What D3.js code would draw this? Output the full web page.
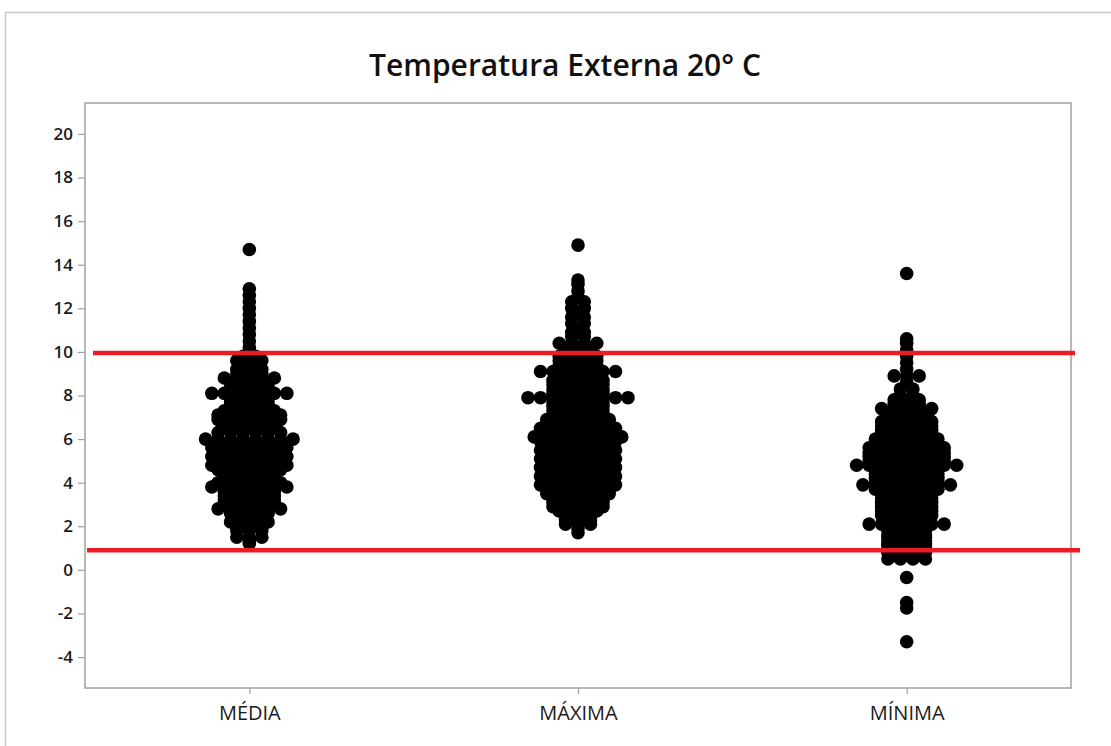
<!DOCTYPE html>
<html>
<head>
<meta charset="utf-8">
<script src="https://cdn.jsdelivr.net/npm/d3@7"></script>
<style>
  html, body { margin: 0; padding: 0; background: #ffffff; overflow: hidden; }
  svg { display: block; }
</style>
</head>
<body>
<svg id="chart" width="1111" height="746"></svg>
<script>
// ---- data -------------------------------------------------------------
const chartTitle = "Temperatura Externa 20° C";
const categories = ["MÉDIA", "MÁXIMA", "MÍNIMA"];
const yTickValues = [-4, -2, 0, 2, 4, 6, 8, 10, 12, 14, 16, 18, 20];
const referenceLines = [9.95, 0.9];

// each entry: [temperature, number of readings with that value]
const media = [
  [14.7, 1],
  [12.9, 1], [12.6, 1], [12.3, 1], [12.0, 1], [11.7, 1], [11.4, 1],
  [11.1, 1], [10.8, 1], [10.5, 1], [10.2, 1], [10.0, 1],
  [9.8, 2], [9.6, 3], [9.4, 2], [9.2, 3], [9.0, 3],
  [8.8, 5],
  [8.6, 3], [8.4, 4], [8.3, 3],
  [8.1, 7],
  [7.9, 4], [7.7, 4], [7.5, 4], [7.3, 5],
  [7.1, 6], [6.9, 6], [6.7, 5], [6.5, 5], [6.3, 6],
  [6.0, 8],
  [5.8, 6], [5.6, 7], [5.4, 6], [5.2, 7], [5.0, 6], [4.8, 7], [4.6, 6],
  [4.4, 5], [4.2, 4],
  [4.0, 6], [3.8, 7],
  [3.6, 5], [3.4, 5], [3.2, 5], [3.0, 5],
  [2.8, 6],
  [2.6, 4], [2.4, 3], [2.2, 4], [2.0, 3], [1.8, 3],
  [1.5, 3],
  [1.3, 1], [1.2, 1]
];

const maxima = [
  [14.9, 1],
  [13.3, 1], [13.1, 1],
  [12.8, 1], [12.5, 1], [12.3, 2], [12.0, 2], [11.8, 1], [11.6, 2],
  [11.3, 2], [11.1, 1], [10.9, 2], [10.7, 2],
  [10.4, 4], [10.2, 3], [10.0, 3], [9.8, 4], [9.6, 4], [9.4, 4], [9.3, 3],
  [9.1, 7],
  [8.9, 4], [8.7, 5], [8.5, 5], [8.3, 5], [8.1, 5],
  [7.9, 9],
  [7.7, 5], [7.5, 5], [7.3, 5], [7.1, 5], [6.9, 6], [6.7, 6], [6.5, 7], [6.3, 7],
  [6.1, 8],
  [5.9, 7], [5.7, 6], [5.5, 7], [5.3, 6], [5.1, 7], [4.9, 6], [4.7, 7],
  [4.5, 6], [4.3, 7], [4.1, 6], [3.9, 7], [3.7, 6], [3.5, 6],
  [3.3, 5], [3.1, 5], [2.9, 5], [2.7, 4],
  [2.5, 3], [2.3, 3], [2.1, 3],
  [1.9, 1], [1.7, 1]
];

const minima = [
  [13.6, 1],
  [10.6, 1], [10.4, 1], [10.1, 1], [9.8, 1], [9.5, 1], [9.2, 1],
  [8.9, 3],
  [8.6, 1], [8.3, 2], [8.0, 2],
  [7.8, 3], [7.6, 3],
  [7.4, 5],
  [7.2, 4], [7.0, 4], [6.8, 5], [6.6, 5], [6.4, 5], [6.2, 5],
  [6.0, 6], [5.8, 6], [5.6, 7], [5.4, 7], [5.2, 7], [5.0, 7],
  [4.8, 9],
  [4.6, 6], [4.4, 6], [4.2, 6], [4.0, 6],
  [3.9, 8],
  [3.7, 6], [3.5, 5], [3.3, 5], [3.1, 5], [2.9, 5], [2.7, 5], [2.5, 5], [2.3, 4],
  [2.1, 7],
  [1.9, 4], [1.8, 4], [1.7, 3], [1.6, 4], [1.5, 4], [1.4, 3], [1.3, 4],
  [1.2, 4], [1.1, 4], [1.0, 3], [0.9, 4], [0.8, 4], [0.7, 3],
  [0.5, 4],
  [-0.35, 1],
  [-1.5, 1], [-1.75, 1],
  [-3.3, 1]
];

const groups = [media, maxima, minima];

// ---- layout -----------------------------------------------------------
const W = 1111, H = 746;
const plot = { left: 85, right: 1071, top: 103, bottom: 688 };
const dotRadius = 6.8;
const dotStep = 12.5;   // horizontal distance between tied readings
const font = "'Open Sans', 'Noto Sans', sans-serif";

const svg = d3.select("#chart");

// outer figure frame (top and left edges visible)
svg.append("path")
  .attr("d", `M5.5,${H} V12.5 H${W}`)
  .attr("fill", "none")
  .attr("stroke", "#c6c6c6")
  .attr("stroke-width", 1.5);

const x = d3.scalePoint()
  .domain(categories)
  .range([plot.left, plot.right])
  .padding(0.5);

const y = d3.scaleLinear()
  .domain([-5.42, 21.42])
  .range([plot.bottom, plot.top]);

// title
svg.append("text")
  .attr("x", 565)
  .attr("y", 76)
  .attr("text-anchor", "middle")
  .attr("font-family", font)
  .attr("font-weight", 600)
  .attr("font-size", 30)
  .attr("fill", "#111")
  .text(chartTitle);

// y axis
const yAxis = svg.append("g")
  .attr("transform", `translate(${plot.left},0)`)
  .call(d3.axisLeft(y)
    .tickValues(yTickValues)
    .tickFormat(d => String(d))
    .tickSize(7).tickPadding(5).tickSizeOuter(0));
yAxis.select(".domain").remove();
yAxis.selectAll("line").attr("stroke", "#a0a0a0").attr("stroke-width", 1.2);
yAxis.selectAll("text")
  .attr("font-family", font)
  .attr("font-weight", 600)
  .attr("font-size", 17)
  .attr("fill", "#1a1a1a");

// x axis
const xAxis = svg.append("g")
  .attr("transform", `translate(0,${plot.bottom})`)
  .call(d3.axisBottom(x).tickSize(6).tickPadding(12).tickSizeOuter(0));
xAxis.select(".domain").remove();
xAxis.selectAll("line").attr("stroke", "#a0a0a0").attr("stroke-width", 1.2);
xAxis.selectAll("text")
  .attr("font-family", font)
  .attr("font-size", 20)
  .attr("fill", "#1a1a1a");

// plot frame
svg.append("rect")
  .attr("x", plot.left)
  .attr("y", plot.top)
  .attr("width", plot.right - plot.left)
  .attr("height", plot.bottom - plot.top)
  .attr("fill", "none")
  .attr("stroke", "#a0a0a0")
  .attr("stroke-width", 1.5);

// individual values: tied readings are spread symmetrically side by side
const points = [];
groups.forEach((rows, gi) => {
  const cx = x(categories[gi]);
  rows.forEach(([value, count]) => {
    for (let i = 0; i < count; i++) {
      points.push({ cx: cx + (i - (count - 1) / 2) * dotStep, value });
    }
  });
});

svg.append("g")
  .selectAll("circle")
  .data(points)
  .join("circle")
  .attr("cx", d => d.cx)
  .attr("cy", d => y(d.value))
  .attr("r", dotRadius)
  .attr("fill", "#000");

// reference limits
const refExtents = [[93, 1075], [87, 1080]];
svg.append("g")
  .selectAll("line")
  .data(referenceLines)
  .join("line")
  .attr("x1", (d, i) => refExtents[i][0])
  .attr("x2", (d, i) => refExtents[i][1])
  .attr("y1", d => y(d))
  .attr("y2", d => y(d))
  .attr("stroke", "#ed1c24")
  .attr("stroke-width", 4.5);
</script>
</body>
</html>
